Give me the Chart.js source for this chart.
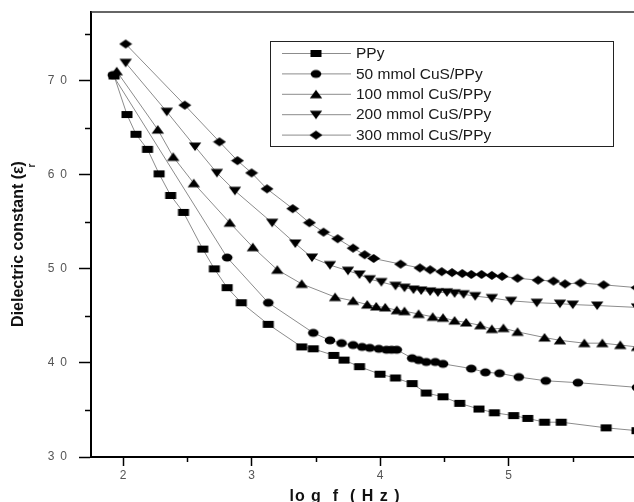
<!DOCTYPE html>
<html><head><meta charset="utf-8">
<script src="https://cdn.jsdelivr.net/npm/chart.js@4/dist/chart.umd.min.js"></script>
<style>
html,body{margin:0;padding:0;overflow:hidden;background:#fff;width:634px;height:502px}
#wrap{position:absolute;left:0;top:0;width:660px;height:502px}
</style></head>
<body><div id="wrap"><canvas id="c" width="660" height="502"></canvas></div>
<script>
const seriesLabels = ['PPy','50 mmol CuS/PPy','100 mmol CuS/PPy','200 mmol CuS/PPy','300 mmol CuS/PPy'];

const ppyX = [1.93,2.03,2.10,2.19,2.28,2.37,2.47,2.62,2.71,2.81,2.92,3.13,3.39,3.48,3.64,3.72,3.84,4.00,4.12,4.25,4.36,4.49,4.62,4.77,4.89,5.04,5.15,5.28,5.41,5.76,6.0];
const ppyY = [70.5,66.4,64.3,62.7,60.1,57.8,56.0,52.1,50.0,48.0,46.4,44.1,41.7,41.5,40.8,40.3,39.6,38.8,38.4,37.8,36.8,36.4,35.7,35.1,34.7,34.4,34.1,33.7,33.7,33.1,32.8];

const cus50X = [1.92,2.81,3.13,3.48,3.61,3.70,3.79,3.86,3.92,3.99,4.05,4.09,4.13,4.25,4.30,4.36,4.43,4.49,4.71,4.82,4.93,5.08,5.29,5.54,6.0];
const cus50Y = [70.6,51.2,46.4,43.2,42.4,42.1,41.9,41.7,41.6,41.5,41.4,41.4,41.4,40.5,40.3,40.1,40.1,39.9,39.4,39.0,38.9,38.5,38.1,37.9,37.4];

const cus100X = [1.95,2.27,2.39,2.55,2.83,3.01,3.20,3.39,3.65,3.79,3.90,3.97,4.04,4.13,4.19,4.30,4.41,4.49,4.58,4.67,4.78,4.87,4.96,5.07,5.28,5.40,5.59,5.73,5.87,6.0];
const cus100Y = [71.0,64.8,61.9,59.1,54.9,52.3,49.9,48.4,47.0,46.6,46.2,46.0,45.9,45.6,45.5,45.2,44.9,44.8,44.5,44.3,44.0,43.6,43.7,43.3,42.7,42.4,42.1,42.1,41.9,41.7];

const cus200X = [2.02,2.34,2.56,2.73,2.87,3.16,3.34,3.47,3.61,3.75,3.84,3.92,4.01,4.12,4.19,4.26,4.32,4.39,4.45,4.52,4.58,4.65,4.74,4.87,5.02,5.22,5.40,5.50,5.69,6.0];
const cus200Y = [71.9,66.7,63.0,60.2,58.3,54.9,52.7,51.2,50.4,49.8,49.4,48.9,48.6,48.2,48.0,47.8,47.7,47.6,47.5,47.5,47.4,47.3,47.1,46.9,46.6,46.4,46.3,46.2,46.1,45.9];

const cus300X = [2.02,2.48,2.75,2.89,3.00,3.12,3.32,3.45,3.56,3.67,3.79,3.88,3.95,4.16,4.31,4.39,4.48,4.56,4.64,4.71,4.79,4.87,4.95,5.07,5.23,5.35,5.44,5.56,5.74,6.0];
const cus300Y = [73.9,67.4,63.5,61.5,60.2,58.5,56.4,54.9,53.9,53.2,52.2,51.5,51.1,50.5,50.1,49.9,49.7,49.6,49.5,49.4,49.4,49.3,49.2,49.0,48.8,48.7,48.4,48.5,48.3,48.0];

const xTickValues = [2,3,4,5,6];
const yTickValues = [30,40,50,60,70];
const xMinorValues = [2.5,3.5,4.5,5.5];
const yMinorValues = [35,45,55,65,75];

const FONT = '"Liberation Sans", Arial, sans-serif';

function marker(type){
  const w = 14, h = 11;
  const c = document.createElement('canvas');
  c.width = w; c.height = h;
  const g = c.getContext('2d');
  g.fillStyle = '#000';
  g.beginPath();
  if(type==='square'){ g.rect(1.5,2,11,7); }
  else if(type==='circle'){ g.ellipse(7,5.5,5.3,4,0,0,Math.PI*2); }
  else if(type==='up'){ g.moveTo(7,1); g.lineTo(13.2,9.5); g.lineTo(0.8,9.5); g.closePath(); }
  else if(type==='down'){ g.moveTo(0.8,1.5); g.lineTo(13.2,1.5); g.lineTo(7,10); g.closePath(); }
  else if(type==='diamond'){ g.moveTo(7,1); g.lineTo(13.5,5.5); g.lineTo(7,10); g.lineTo(0.5,5.5); g.closePath(); }
  g.fill();
  return c;
}
const markerTypes = ['square','circle','up','down','diamond'];
const markers = markerTypes.map(marker);

const xs = [ppyX,cus50X,cus100X,cus200X,cus300X];
const ys = [ppyY,cus50Y,cus100Y,cus200Y,cus300Y];

const datasets = seriesLabels.map((lab,i)=>({
  label: lab,
  data: xs[i].map((x,j)=>({x:x,y:ys[i][j]})),
  borderColor: '#8c8c8c',
  borderWidth: 1,
  backgroundColor: '#000',
  pointStyle: markers[i],
  pointRadius: 5,
  tension: 0,
  clip: 8
}));

const decor = {
  id: 'decor',
  afterDraw(chart){
    const ctx = chart.ctx, a = chart.chartArea;
    const xs_ = chart.scales.x, ys_ = chart.scales.y;
    ctx.save();
    // top frame line
    ctx.strokeStyle = '#333'; ctx.lineWidth = 1.5;
    ctx.beginPath(); ctx.moveTo(a.left, a.top); ctx.lineTo(a.right, a.top); ctx.stroke();
    // minor ticks
    ctx.strokeStyle = '#000'; ctx.lineWidth = 1.5;
    yMinorValues.forEach(v=>{
      const p = Math.round(ys_.getPixelForValue(v))+0.5;
      ctx.beginPath(); ctx.moveTo(a.left-6, p); ctx.lineTo(a.left, p); ctx.stroke();
    });
    xMinorValues.forEach(v=>{
      const p = Math.round(xs_.getPixelForValue(v))+0.5;
      ctx.beginPath(); ctx.moveTo(p, a.bottom); ctx.lineTo(p, a.bottom+5); ctx.stroke();
    });
    // legend
    const L = 270.5, T = 41.5, W = 343, H = 105;
    ctx.fillStyle = '#fff'; ctx.fillRect(L, T, W, H);
    ctx.strokeStyle = '#222'; ctx.lineWidth = 1;
    ctx.strokeRect(L, T, W, H);
    chart.data.datasets.forEach((ds,i)=>{
      const yy = 53.5 + i*20.4;
      ctx.strokeStyle = '#8c8c8c'; ctx.lineWidth = 1;
      ctx.beginPath(); ctx.moveTo(282, yy); ctx.lineTo(351, yy); ctx.stroke();
      const m = ds.pointStyle;
      ctx.drawImage(m, 316 - m.width/2, yy - m.height/2);
      ctx.fillStyle = '#1a1a1a';
      ctx.font = '15.5px ' + FONT;
      ctx.textAlign = 'left'; ctx.textBaseline = 'middle';
      ctx.fillText(ds.label, 356, yy + 0.5);
    });
    // y title
    ctx.save();
    ctx.translate(19, 244);
    ctx.rotate(-Math.PI/2);
    ctx.font = 'bold 16px ' + FONT;
    ctx.fillStyle = '#111';
    ctx.textBaseline = 'middle';
    const t1 = 'Dielectric constant (\u03b5', t2 = ')';
    const w1 = ctx.measureText(t1).width, w2 = ctx.measureText(t2).width;
    const x0 = -(w1 + w2)/2;
    ctx.textAlign = 'left';
    ctx.fillText(t1, x0, 0);
    ctx.fillText(t2, x0 + w1, 0);
    ctx.font = 'bold 10px ' + FONT;
    ctx.fillText('r', x0 + w1 - 1, 13);
    ctx.restore();
    // x title
    ctx.font = 'bold 16px ' + FONT;
    ctx.fillStyle = '#111';
    ctx.textAlign = 'center'; ctx.textBaseline = 'alphabetic';
    try { ctx.letterSpacing = '1px'; } catch(e){}
    ctx.fillText('lo g  f  ( H z )', 345, 501);
    try { ctx.letterSpacing = '0px'; } catch(e){}
    ctx.restore();
  }
};

new Chart(document.getElementById('c'), {
  type: 'line',
  data: { datasets: datasets },
  options: {
    responsive: false,
    animation: false,
    devicePixelRatio: 1,
    layout: { padding: { left: 0, right: 23, top: 12, bottom: 0 } },
    plugins: { legend: { display: false }, tooltip: { enabled: false } },
    elements: { point: { hoverRadius: 5 } },
    scales: {
      x: {
        type: 'linear', min: 1.75, max: 6.0,
        afterBuildTicks: s => { s.ticks = xTickValues.map(v=>({value:v})); },
        afterFit: s => { s.height = 45; s.paddingLeft = 0; s.paddingRight = 0; },
        ticks: { color: '#555', font: { size: 12, family: FONT }, padding: 2, maxRotation: 0, callback: v => String(v) },
        grid: { drawOnChartArea: false, drawTicks: true, tickLength: 9, tickWidth: 1.5, tickColor: '#000' },
        border: { color: '#000', width: 2 }
      },
      y: {
        type: 'linear', min: 30, max: 77.3,
        afterBuildTicks: s => { s.ticks = yTickValues.map(v=>({value:v})); },
        afterFit: s => { s.width = 91; s.paddingTop = 0; s.paddingBottom = 0; },
        ticks: { color: '#555', font: { size: 12, family: FONT }, padding: 12,
                 callback: v => String(v).split('').join('\u2002') },
        grid: { drawOnChartArea: false, drawTicks: true, tickLength: 12, tickWidth: 1.5, tickColor: '#000' },
        border: { color: '#000', width: 2 }
      }
    }
  },
  plugins: [decor]
});
</script>
</body></html>
